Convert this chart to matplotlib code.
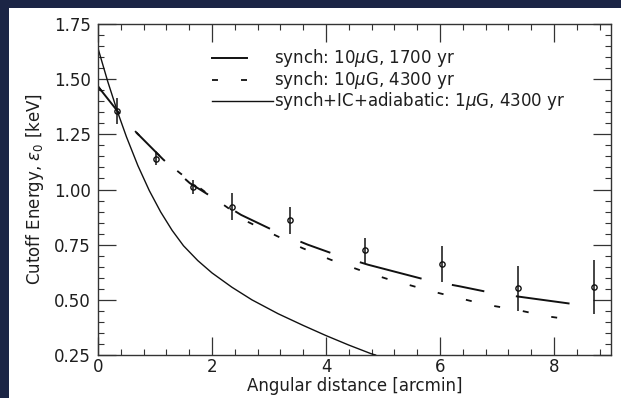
import matplotlib
matplotlib.use("Agg")
import matplotlib.pyplot as plt
from matplotlib.patches import Rectangle
from matplotlib.ticker import MultipleLocator, FormatStrFormatter

NAVY = "#1b2545"
INK = "#111111"

# measured cutoff energies per annulus
dist = [0.34, 1.01, 1.67, 2.35, 3.36, 4.69, 6.03, 7.37, 8.70]
e0 = [1.356, 1.137, 1.011, 0.922, 0.860, 0.725, 0.662, 0.553, 0.559]
e0_err = [0.057, 0.027, 0.032, 0.060, 0.060, 0.056, 0.080, 0.102, 0.123]

# synch 10uG, 1700 yr
x_1700 = [0.0, 0.34, 0.674, 1.14, 1.61, 2.03, 2.51, 3.14, 3.68, 4.22,
          4.74, 5.81, 6.35, 6.92, 7.48, 8.42]
y_1700 = [1.467, 1.356, 1.258, 1.137, 1.029, 0.961, 0.885, 0.807, 0.750, 0.700,
          0.659, 0.587, 0.561, 0.531, 0.511, 0.478]

# synch 10uG, 4300 yr
x_4300 = [0.0, 0.34, 0.674, 1.14, 1.44, 1.9, 2.64, 3.14, 3.59, 4.08, 4.6,
          5.06, 5.30, 5.79, 6.30, 6.81, 7.34, 7.89, 8.45]
y_4300 = [1.467, 1.356, 1.258, 1.137, 1.074, 0.985, 0.852, 0.789, 0.734, 0.682, 0.634,
          0.596, 0.579, 0.543, 0.510, 0.478, 0.455, 0.425, 0.405]

# synch+IC+adiabatic 1uG, 4300 yr
x_ic = [0.0, 0.17, 0.34, 0.5, 0.7, 0.9, 1.1, 1.3, 1.5, 1.75, 2.0, 2.35,
        2.7, 3.16, 3.6, 4.0, 4.4, 4.8, 4.87]
y_ic = [1.640, 1.490, 1.354, 1.238, 1.108, 0.995, 0.898, 0.815, 0.745, 0.678, 0.622, 0.557,
        0.500, 0.437, 0.384, 0.338, 0.295, 0.255, 0.250]

labels = [r"synch: 10$\mu$G, 1700 yr",
          r"synch: 10$\mu$G, 4300 yr",
          r"synch+IC+adiabatic: 1$\mu$G, 4300 yr"]

plt.rcParams["lines.scale_dashes"] = False
plt.rcParams["font.family"] = "DejaVu Sans"
plt.rcParams["mathtext.fontset"] = "dejavusans"
FS = 12
TXT = "#1e1e1e"

fig = plt.figure(figsize=(6.21, 3.98), dpi=100, facecolor=NAVY)
fig.add_artist(Rectangle((9 / 621, 0), 1, 1 - 8 / 398, transform=fig.transFigure,
                         facecolor="white", edgecolor="none", zorder=-10))
ax = fig.add_axes([98 / 621, 1 - 355 / 398, 513 / 621, 331 / 398])
ax.set_facecolor("white")

dash_1700 = (0, (21.6, 21.6, 29, 19.5, 20, 23, 28, 23.8, 23, 22.3, 46, 22.3, 23.8, 23, 39, 60))
dash_4300 = (0, (4.3, 16.6))

ax.plot(x_1700, y_1700, color=INK, lw=1.4, linestyle=dash_1700)
ax.plot(x_4300, y_4300, color=INK, lw=1.3, linestyle=dash_4300)
ax.plot(x_ic, y_ic, color=INK, lw=1.0)
ax.errorbar(dist, e0, yerr=e0_err, fmt="o", ms=3.8, mfc="none", mec=INK, mew=1.0,
            ecolor=INK, elinewidth=1.1, capsize=0)

ax.set_xlim(0, 9)
ax.set_ylim(0.25, 1.75)
ax.xaxis.set_major_locator(MultipleLocator(2))
ax.xaxis.set_minor_locator(MultipleLocator(0.4))
ax.yaxis.set_major_locator(MultipleLocator(0.25))
ax.yaxis.set_minor_locator(MultipleLocator(0.05))
ax.yaxis.set_major_formatter(FormatStrFormatter("%.2f"))
ax.tick_params(which="both", direction="in", top=True, right=True, colors="#333333",
               labelcolor=TXT, labelsize=FS)
ax.tick_params(which="major", length=13, width=0.9)
ax.tick_params(which="minor", length=4.5, width=0.8)
ax.tick_params(axis="x", pad=2)
ax.tick_params(axis="y", pad=5)
for s in ax.spines.values():
    s.set_color("#333333")
    s.set_linewidth(1.0)

ax.set_xlabel("Angular distance [arcmin]", fontsize=FS, labelpad=1, color=TXT)
ax.set_ylabel(r"Cutoff Energy, $\epsilon_0$ [keV]", fontsize=FS, labelpad=6, color=TXT)

# hand-placed legend, as in the original figure
rows = [0.897, 0.831, 0.767]
handle_end = [0.291, 0.291, 0.341]
styles = [dict(lw=1.4, linestyle="-"), dict(lw=1.3, linestyle=dash_4300), dict(lw=1.0, linestyle="-")]
for yy, xe, st, lab in zip(rows, handle_end, styles, labels):
    ax.plot([0.222, xe], [yy, yy], color=INK, transform=ax.transAxes, **st)
    ax.text(0.344, yy, lab, transform=ax.transAxes, fontsize=FS, va="center", ha="left", color=TXT)

fig.savefig("out.png", dpi=100, facecolor=NAVY)
